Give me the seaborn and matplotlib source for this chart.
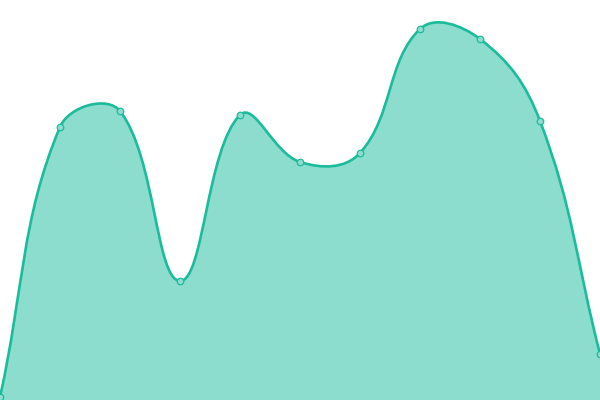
import numpy as np
import seaborn as sns
import matplotlib
matplotlib.use("Agg")
from matplotlib import pyplot as plt
from matplotlib.path import Path
from matplotlib.patches import PathPatch

# data
steps = list(range(11))
values = [3, 273, 289, 119, 285, 238, 247, 371, 361, 279, 46]

line_color = "#1abc9c"
fill_color = "#8cddcd"


def spline_path(ax, xs, ys, tension=0.4, close_to=None):
    # chart.js style bezier controls, worked out in screen space
    pts = ax.transData.transform(np.column_stack([xs, ys]))
    n = len(pts)
    prev_ctl = []
    next_ctl = []
    for i in range(n):
        p = pts[max(i - 1, 0)]
        c = pts[i]
        nx = pts[min(i + 1, n - 1)]
        d01 = np.hypot(*(c - p))
        d12 = np.hypot(*(nx - c))
        tot = d01 + d12
        fa = tension * d01 / tot if tot else 0
        fb = tension * d12 / tot if tot else 0
        prev_ctl.append(c - fa * (nx - p))
        next_ctl.append(c + fb * (nx - p))
    verts = [pts[0]]
    codes = [Path.MOVETO]
    for i in range(n - 1):
        verts += [next_ctl[i], prev_ctl[i + 1], pts[i + 1]]
        codes += [Path.CURVE4] * 3
    if close_to is not None:
        base = ax.transData.transform([[xs[-1], close_to], [xs[0], close_to]])
        verts += [base[0], base[1], pts[0]]
        codes += [Path.LINETO, Path.LINETO, Path.CLOSEPOLY]
    inv = ax.transData.inverted()
    return Path(inv.transform(np.array(verts)), codes)


sns.set_style("white")
fig = plt.figure(figsize=(6, 4), dpi=100)
ax = fig.add_axes([0, 0, 1, 1])
ax.set_xlim(0, 10)
ax.set_ylim(0, 400)
ax.axis("off")

ax.add_patch(PathPatch(spline_path(ax, steps, values, close_to=0),
                       facecolor=fill_color, edgecolor="none", zorder=1))
ax.add_patch(PathPatch(spline_path(ax, steps, values), facecolor="none",
                       edgecolor=line_color, lw=1.9, zorder=2))

sns.scatterplot(x=steps, y=values, ax=ax, s=22, color=fill_color,
                edgecolor=line_color, linewidth=0.9, zorder=3, clip_on=True)

fig.savefig("out.png", dpi=100)
